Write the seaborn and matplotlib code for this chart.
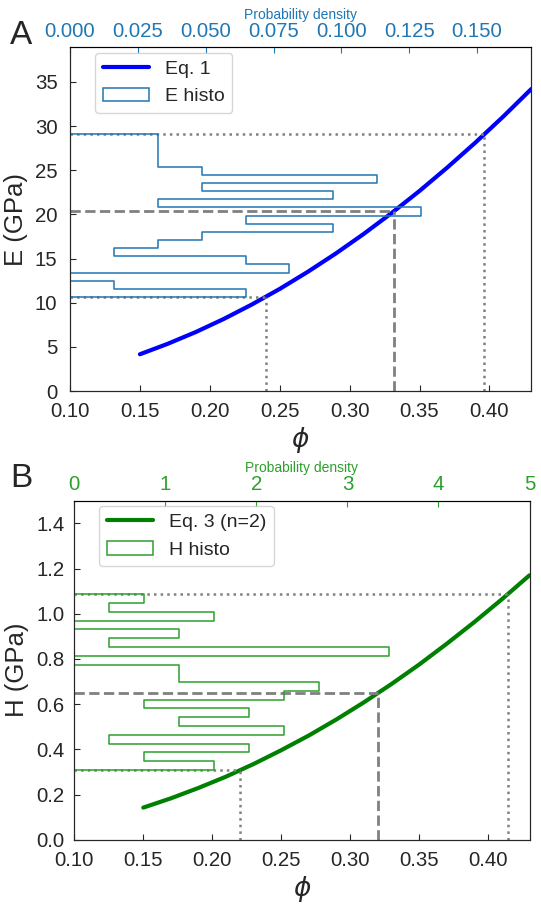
import numpy as np
import matplotlib
matplotlib.use("Agg")
import matplotlib.pyplot as plt
import seaborn as sns
from matplotlib.lines import Line2D
from matplotlib.patches import Patch
from matplotlib.ticker import FormatStrFormatter

phi = [0.15, 0.17, 0.19, 0.21, 0.23, 0.25, 0.27, 0.29,
       0.31, 0.33, 0.35, 0.37, 0.39, 0.41, 0.43]
E_eq1 = [4.16, 5.35, 6.68, 8.16, 9.79, 11.56, 13.49, 15.56,
         17.78, 20.15, 22.66, 25.33, 28.14, 31.10, 34.21]      # GPa
H_eq3 = [0.142, 0.183, 0.229, 0.279, 0.335, 0.396, 0.461, 0.532,
         0.608, 0.689, 0.775, 0.867, 0.963, 1.064, 1.170]     # GPa

# histogram counts, 20 bins from bottom to top
E_counts = [4, 1, 0, 5, 4, 1, 2, 3, 6, 4, 8, 2, 6, 3, 7, 3, 2, 2, 2, 2]
E_range = (10.64, 29.10)
H_counts = [4, 2, 5, 1, 6, 3, 5, 2, 6, 7, 3, 3, 0, 9, 1, 3, 0, 4, 1, 2]
H_range = (0.309, 1.0855)

# min / mean / max and the matching phi
E_marks = [10.64, 20.41, 29.10]
phi_E_marks = [0.2405, 0.3317, 0.3958]
H_marks = [0.309, 0.650, 1.0855]
phi_H_marks = [0.220, 0.320, 0.4146]

sns.set_style("ticks")
plt.rcParams['font.family'] = ['Liberation Sans', 'DejaVu Sans']
plt.rcParams['mathtext.fontset'] = 'dejavusans'

fig = plt.figure(figsize=(5.41, 9.05), dpi=100)
ax_a = fig.add_axes([70 / 541, 1 - 391 / 905, 461.4 / 541, 343.5 / 905])
ax_b = fig.add_axes([74.3 / 541, 1 - 839.7 / 905, 455.2 / 541, 339 / 905])


def draw_panel(ax, curve, counts, rng, marks, phi_marks, line_color, hist_color,
               ylim, yticks, ylabel, dens_lim, dens_ticks, dens_fmt, labels, ypad):
    sns.lineplot(x=phi, y=curve, color=line_color, linewidth=3, ax=ax)
    for val, p, ls in zip(marks, phi_marks, [':', '--', ':']):
        lw = 2 if ls == '--' else 1.8
        ax.plot([0.1, p], [val, val], ls=ls, color='gray', lw=lw)
        ax.plot([p, p], [0, val], ls=ls, color='gray', lw=lw)
    ax.set_xlim(0.1, 0.43)
    ax.set_xticks([0.10, 0.15, 0.20, 0.25, 0.30, 0.35, 0.40])
    ax.xaxis.set_major_formatter(FormatStrFormatter('%.2f'))
    ax.set_xlabel(r'$\phi$', fontsize=19, labelpad=3)
    ax.set_ylabel(ylabel, fontsize=18.5, labelpad=5)
    ax.tick_params(direction='in', labelsize=14.7, length=4)
    ax.tick_params(axis='x', pad=8)
    ax.tick_params(axis='y', pad=ypad)

    ax2 = ax.twiny()
    edges = np.linspace(rng[0], rng[1], len(counts) + 1)
    centers = (edges[:-1] + edges[1:]) / 2
    sns.histplot(y=centers, weights=counts, bins=len(counts), binrange=rng,
                 stat='density', element='step', fill=True, color=hist_color,
                 facecolor='none', edgecolor=hist_color, linewidth=1.1, ax=ax2)
    ax2.set_xlim(dens_lim)
    ax2.set_xticks(dens_ticks)
    ax2.xaxis.set_major_formatter(FormatStrFormatter(dens_fmt))
    ax2.set_xlabel('Probability density', color=hist_color, fontsize=10, labelpad=2)
    ax2.tick_params(axis='x', colors=hist_color, direction='in', labelsize=14.7,
                    length=4, pad=5)
    ax2.spines['top'].set_color('black')
    ax.set_ylim(ylim)
    ax.set_yticks(yticks)

    handles = [Line2D([], [], color=line_color, lw=3),
               Patch(facecolor='white', edgecolor=hist_color, lw=1.1)]
    ax2.legend(handles, labels, loc='upper left', bbox_to_anchor=(0.054, 0.985),
               borderaxespad=0, fontsize=14, handlelength=2.4)


draw_panel(ax_a, E_eq1, E_counts, E_range, E_marks, phi_E_marks, 'blue', 'tab:blue',
           (0, 38.9), [0, 5, 10, 15, 20, 25, 30, 35], 'E (GPa)',
           (0, 0.17), [0, 0.025, 0.05, 0.075, 0.1, 0.125, 0.15], '%.3f',
           ['Eq. 1', 'E histo'], 9)
ax_a.yaxis.set_major_formatter(FormatStrFormatter('%d'))

draw_panel(ax_b, H_eq3, H_counts, H_range, H_marks, phi_H_marks, 'green', 'tab:green',
           (0, 1.5), [0, 0.2, 0.4, 0.6, 0.8, 1.0, 1.2, 1.4], 'H (GPa)',
           (0, 5), [0, 1, 2, 3, 4, 5], '%d',
           ['Eq. 3 (n=2)', 'H histo'], 7)
ax_b.yaxis.set_major_formatter(FormatStrFormatter('%.1f'))

fig.text(10 / 541, 1 - 44 / 905, 'A', fontsize=24)
fig.text(10 / 541, 1 - 487 / 905, 'B', fontsize=24)

fig.savefig('out.png', dpi=100)
